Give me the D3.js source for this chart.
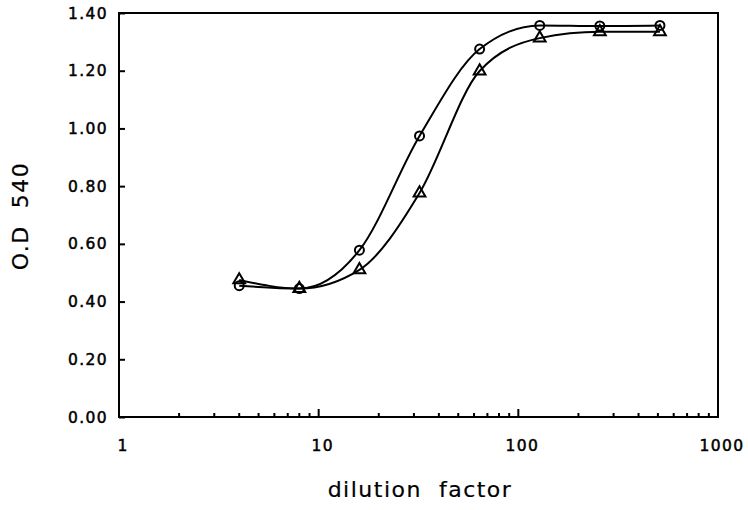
<!DOCTYPE html>
<html>
<head>
<meta charset="UTF-8">
<script src="https://d3js.org/d3.v7.min.js"></script>
<style>
    body { margin: 0; background: #fff; }
    text { font-family: "DejaVu Sans", sans-serif; fill: #000; }
    .tick-label { font-size: 15.5px; letter-spacing: 1.4px; stroke: #000; stroke-width: 0.5px; }
    .axis-title { font-size: 22px; letter-spacing: 1.5px; white-space: pre; stroke: #000; stroke-width: 0.2px; }
</style>
</head>
<body>
<svg width="748" height="510"></svg>
<script>
    // dilution factors (x) and O.D. 540 readings for the two series
    const dilution = [4, 8, 16, 32, 64, 128, 256, 512];
    const odCircle = [0.455, 0.445, 0.578, 0.974, 1.275, 1.357, 1.355, 1.357];
    const odTriangle = [0.475, 0.445, 0.510, 0.776, 1.199, 1.313, 1.335, 1.335];
    const xTicks = [1, 10, 100, 1000];
    const yTicks = [0, 0.2, 0.4, 0.6, 0.8, 1.0, 1.2, 1.4];

    const margin = {top: 13, right: 30, bottom: 93, left: 119},
          width = 748 - margin.left - margin.right,
          height = 510 - margin.top - margin.bottom;

    const svg = d3.select("svg");
    const g = svg.append("g")
        .attr("transform", "translate(" + margin.left + "," + margin.top + ")");

    const x = d3.scaleLog().domain([1, 1000]).range([0, width]);
    const y = d3.scaleLinear().domain([0, 1.4]).range([height, 0]);

    // frame
    g.append("rect")
        .attr("width", width).attr("height", height)
        .attr("fill", "none").attr("stroke", "#000").attr("stroke-width", 2);

    // y axis: short ticks pointing inside
    const yAxis = g.append("g")
        .call(d3.axisRight(y).tickValues(yTicks).tickSize(6).tickFormat(""));
    yAxis.select(".domain").remove();
    yAxis.selectAll("line").attr("stroke-width", 2);
    g.selectAll(".ylab")
        .data(yTicks)
        .enter().append("text")
        .attr("class", "tick-label")
        .attr("x", -11)
        .attr("y", d => y(d))
        .attr("dy", "0.36em")
        .attr("text-anchor", "end")
        .text(d => d3.format(".2f")(d));

    // x axis: log ticks pointing up, longer at decades
    const minor = x.ticks().filter(d => xTicks.indexOf(d) < 0);
    const xAxis = g.append("g").attr("transform", "translate(0," + height + ")");
    xAxis.selectAll(".minor")
        .data(minor)
        .enter().append("line")
        .attr("x1", d => x(d)).attr("x2", d => x(d))
        .attr("y1", 0).attr("y2", -4)
        .attr("stroke", "#000").attr("stroke-width", 2);
    xAxis.selectAll(".major")
        .data(xTicks.slice(1, 3))
        .enter().append("line")
        .attr("x1", d => x(d)).attr("x2", d => x(d))
        .attr("y1", 0).attr("y2", -8)
        .attr("stroke", "#000").attr("stroke-width", 2);
    xAxis.selectAll(".xlab")
        .data(xTicks)
        .enter().append("text")
        .attr("class", "tick-label")
        .attr("x", d => x(d) + 4)
        .attr("y", 34)
        .attr("text-anchor", "middle")
        .text(d => d);

    // axis titles
    svg.append("text")
        .attr("class", "axis-title")
        .attr("x", margin.left + 301)
        .attr("y", 497)
        .attr("text-anchor", "middle")
        .text("dilution  factor");
    svg.append("text")
        .attr("class", "axis-title")
        .attr("transform", "translate(28,216) rotate(-90)")
        .attr("text-anchor", "middle")
        .text("O.D  540");

    // curves
    const line = d3.line()
        .x(d => x(d[0]))
        .y(d => y(d[1]))
        .curve(d3.curveMonotoneX);

    const circlePts = dilution.map((d, i) => [d, odCircle[i]]);
    const trianglePts = dilution.map((d, i) => [d, odTriangle[i]]);

    [circlePts, trianglePts].forEach(pts => {
        g.append("path")
            .datum(pts)
            .attr("d", line)
            .attr("fill", "none")
            .attr("stroke", "#000")
            .attr("stroke-width", 2);
    });

    g.selectAll(".circ")
        .data(circlePts)
        .enter().append("circle")
        .attr("cx", d => x(d[0]))
        .attr("cy", d => y(d[1]))
        .attr("r", 4.5)
        .attr("fill", "none")
        .attr("stroke", "#000")
        .attr("stroke-width", 2);

    const tri = d3.symbol().type(d3.symbolTriangle).size(60);
    g.selectAll(".tri")
        .data(trianglePts)
        .enter().append("path")
        .attr("transform", d => "translate(" + x(d[0]) + "," + y(d[1]) + ")")
        .attr("d", tri)
        .attr("fill", "none")
        .attr("stroke", "#000")
        .attr("stroke-width", 2);
</script>
</body>
</html>
